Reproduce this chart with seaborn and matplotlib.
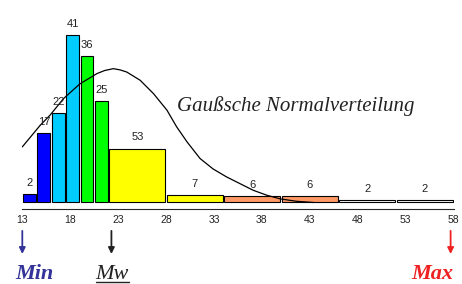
"""
Histogram with unequal class widths and a Gaussian curve drawn over it
"""
import numpy as np
import matplotlib
matplotlib.use('Agg')
import matplotlib.pyplot as plt
from matplotlib.lines import Line2D
import seaborn as sns

sns.set_style('white')
plt.rcParams['font.family'] = ['Liberation Sans', 'DejaVu Sans']

# class edges and counts (bars are count / class width)
bin_edges = [13, 14.5, 16, 17.5, 19, 20.5, 22, 28, 34, 40, 46, 52, 58]
counts = [2, 17, 22, 41, 36, 25, 53, 7, 6, 6, 2, 2]
bar_colors = ['#0000FF', '#0000FF', '#00CCFF', '#00CCFF', '#00FF00', '#00FF00',
              '#FFFF00', '#FFFF00', '#FF9966', '#FF9966', '#FFFFFF', '#FFFFFF']

# normal curve
curve_x = [13.0, 14.85, 15.9, 17.3, 19.0, 20.8, 21.6, 22.5, 23.2, 23.9, 25.3, 26.7,
           28.1, 29.1, 30.2, 31.55, 32.9, 34.3, 35.7, 37.1, 38.5, 39.9, 41.6, 43.4]
curve_y = [9.1, 12.6, 14.3, 17.0, 19.4, 21.1, 21.6, 21.9, 21.7, 21.35, 20.0, 17.8,
           15.1, 12.4, 9.9, 7.2, 5.5, 4.2, 3.1, 2.0, 1.2, 0.6, 0.2, 0.0]

x_ticks = list(range(13, 59, 5))

# markers below the axis: Min, mean (Mw), Max
marker_x = [13.0, 22.3, 57.7]
marker_text = ['Min', 'Mw', 'Max']
marker_colors = ['#333399', '#222222', '#EE2222']
marker_weight = ['bold', 'normal', 'bold']
text_x = [14.3, 22.4, 55.8]

bin_mid = (np.array(bin_edges[:-1]) + np.array(bin_edges[1:])) / 2

fig = plt.figure(figsize=(4.62, 2.84), dpi=100)
ax = fig.add_axes([22.3 / 462, 75 / 284, 431.2 / 462, 199 / 284])

sns.histplot(x=bin_mid, weights=counts, bins=bin_edges, stat='frequency',
             edgecolor='black', linewidth=0.8, alpha=1, ax=ax)

gap = 0.15
for patch, c, n in zip(ax.patches, bar_colors, counts):
    patch.set_facecolor(c)
    patch.set_x(patch.get_x() + gap / 2)
    patch.set_width(patch.get_width() - gap)
    cx = patch.get_x() + patch.get_width() / 2
    ax.annotate(str(n), (cx, patch.get_height()), xytext=(0, 5.8),
                textcoords='offset points', ha='center', va='baseline',
                fontsize=8, color='#222222')

sns.lineplot(x=curve_x, y=curve_y, color='black', linewidth=0.9, ax=ax,
             solid_joinstyle='round')

ax.text(29.1, 14.9, 'Gaußsche Normalverteilung', ha='left', va='baseline',
        fontsize=15, style='italic', family='Liberation Serif', color='#222222')

ax.set_xlim(13, 58)
ax.set_ylim(-1.064, 31.5)
ax.set_xticks(x_ticks)
ax.set_yticks([])
ax.set_xlabel('')
ax.set_ylabel('')
for side in ['top', 'right', 'left']:
    ax.spines[side].set_visible(False)
ax.spines['bottom'].set_linewidth(0.8)
ax.tick_params(axis='x', direction='inout', length=4.3, width=0.8,
               labelsize=7.5, pad=2.0, colors='black', labelcolor='#222222')

trans = ax.get_xaxis_transform()
label_y = -0.352
labels = []
for mx, tx, txt, c, w in zip(marker_x, text_x, marker_text, marker_colors, marker_weight):
    ax.annotate('', xy=(mx, -0.226), xytext=(mx, -0.11), xycoords=trans,
                textcoords=trans, annotation_clip=False,
                arrowprops=dict(arrowstyle='-|>', color=c, lw=1.3,
                                mutation_scale=9, shrinkA=0, shrinkB=0))
    t = ax.text(tx, label_y, txt, transform=trans, ha='center', va='baseline',
                fontsize=16, style='italic', weight=w, family='Liberation Serif',
                color=c, clip_on=False)
    labels.append(t)

# underline the mean label
fig.canvas.draw()
mw = labels[1]
bb = mw.get_window_extent()
base = trans.transform((text_x[1], label_y))[1]
fig.add_artist(Line2D([bb.x0, bb.x1], [base - 3, base - 3], transform=None,
                      color=marker_colors[1], linewidth=1.0))

fig.savefig('out.png', dpi=100)
